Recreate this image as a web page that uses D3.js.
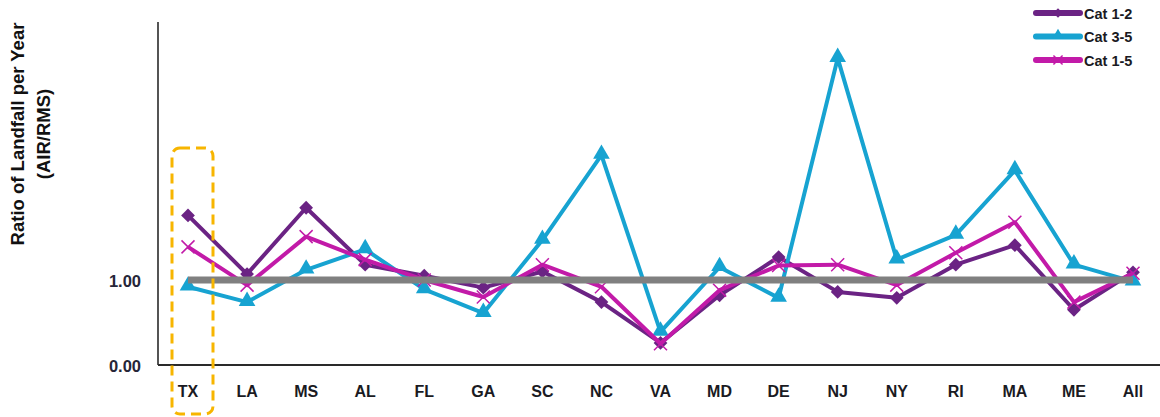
<!DOCTYPE html>
<html><head><meta charset="utf-8">
<script src="https://cdn.jsdelivr.net/npm/d3@7/dist/d3.min.js"></script>
<style>body{margin:0;background:#fff}svg{display:block}text{font-family:"Liberation Sans",Arial,sans-serif}</style>
</head><body><svg id="c" width="1160" height="417"></svg>
<script>
const categories = ["TX","LA","MS","AL","FL","GA","SC","NC","VA","MD","DE","NJ","NY","RI","MA","ME","All"];
const cat12 = [1.76,1.07,1.85,1.18,1.05,0.91,1.10,0.74,0.26,0.82,1.27,0.86,0.79,1.18,1.41,0.65,1.09];
const cat35 = [0.92,0.74,1.12,1.36,0.89,0.61,1.47,2.47,0.39,1.15,0.79,3.61,1.24,1.53,2.29,1.18,0.98];
const cat15 = [1.39,0.94,1.51,1.24,1.00,0.80,1.18,0.92,0.25,0.88,1.17,1.18,0.94,1.32,1.68,0.74,1.08];
const refLine = categories.map(() => 1.0);
const yTicks = [0, 1];
const seriesNames = ["Cat 1-2","Cat 3-5","Cat 1-5"];

const svg = d3.select("#c");
const x = d3.scalePoint().domain(categories).range([188, 1133]);
const y = d3.scaleLinear().domain([0, 4]).range([365, 25]);

// axes
svg.append("line").attr("x1",158).attr("x2",158).attr("y1",22).attr("y2",365).attr("stroke","#2a2a2a").attr("stroke-width",1.6);
svg.append("line").attr("x1",158).attr("x2",1160).attr("y1",365).attr("y2",365).attr("stroke","#2a2a2a").attr("stroke-width",1.8);

svg.selectAll(".yt").data(yTicks).join("text")
  .attr("x",141).attr("y",d=>y(d)+7).attr("text-anchor","end")
  .attr("font-size",16.5).attr("font-weight","bold").attr("fill","#262638")
  .text(d=>d3.format(".2f")(d));

svg.selectAll(".xt").data(categories).join("text")
  .attr("x",d=>x(d)).attr("y",397).attr("text-anchor","middle")
  .attr("font-size",16).attr("font-weight","bold").attr("fill","#1a1a22")
  .text(d=>d);

const yt = svg.append("text").attr("transform","translate(24,134) rotate(-90)")
  .attr("text-anchor","middle").attr("font-size",18.5).attr("font-weight","bold").attr("fill","#111");
yt.append("tspan").attr("x",0).attr("dy",0).text("Ratio of Landfall per Year");
yt.append("tspan").attr("x",0).attr("dy",26).text("(AIR/RMS)");

const line = d3.line().x((d,i)=>x(categories[i])).y(d=>y(d));

const series = [
  {name:seriesNames[0], vals:cat12, color:"#6b2384", marker:"diamond"},
  {name:seriesNames[1], vals:cat35, color:"#17a3d1", marker:"triangle"},
  {name:seriesNames[2], vals:cat15, color:"#c21aa8", marker:"x"}
];

function drawMarker(g, type, color, cx, cy, k){
  k = k || 1;
  if(type==="diamond"){
    g.append("path").attr("d",d3.symbol(d3.symbolSquare, 95*k*k)())
     .attr("transform",`translate(${cx},${cy}) rotate(45)`).attr("fill",color);
  } else if(type==="triangle"){
    g.append("path").attr("d",d3.symbol(d3.symbolTriangle, 120*k*k)())
     .attr("transform",`translate(${cx},${cy-1})`).attr("fill",color);
  } else {
    const r = 6.5*k;
    g.append("path").attr("d",`M${-r},${-r}L${r},${r}M${-r},${r}L${r},${-r}`)
     .attr("transform",`translate(${cx},${cy})`).attr("stroke",color).attr("stroke-width",1.5).attr("fill","none");
  }
}

series.forEach(s=>{
  const g = svg.append("g");
  g.append("path").datum(s.vals).attr("d",line).attr("fill","none")
   .attr("stroke",s.color).attr("stroke-width",4).attr("stroke-linejoin","round");
  s.vals.forEach((v,i)=>drawMarker(g, s.marker, s.color, x(categories[i]), y(v)));
});

svg.append("path").datum(refLine).attr("d",line).attr("fill","none")
  .attr("stroke","#808080").attr("stroke-width",7);

// highlight box
svg.append("rect").attr("x",172).attr("y",148).attr("width",41).attr("height",266)
  .attr("rx",8).attr("fill","none").attr("stroke","#f7b500").attr("stroke-width",3)
  .attr("stroke-dasharray","10,6");

// legend
const lg = svg.append("g");
series.forEach((s,i)=>{
  const ly = 13 + i*23.5;
  lg.append("line").attr("x1",1036).attr("x2",1080).attr("y1",ly).attr("y2",ly)
    .attr("stroke",s.color).attr("stroke-width",6).attr("stroke-linecap","round");
  drawMarker(lg, s.marker, s.color, 1058, ly, 0.7);
  lg.append("text").attr("x",1084).attr("y",ly+5.5).attr("font-size",14.5).attr("font-weight","bold")
    .attr("fill","#1a1a22").text(s.name);
});
</script></body></html>
